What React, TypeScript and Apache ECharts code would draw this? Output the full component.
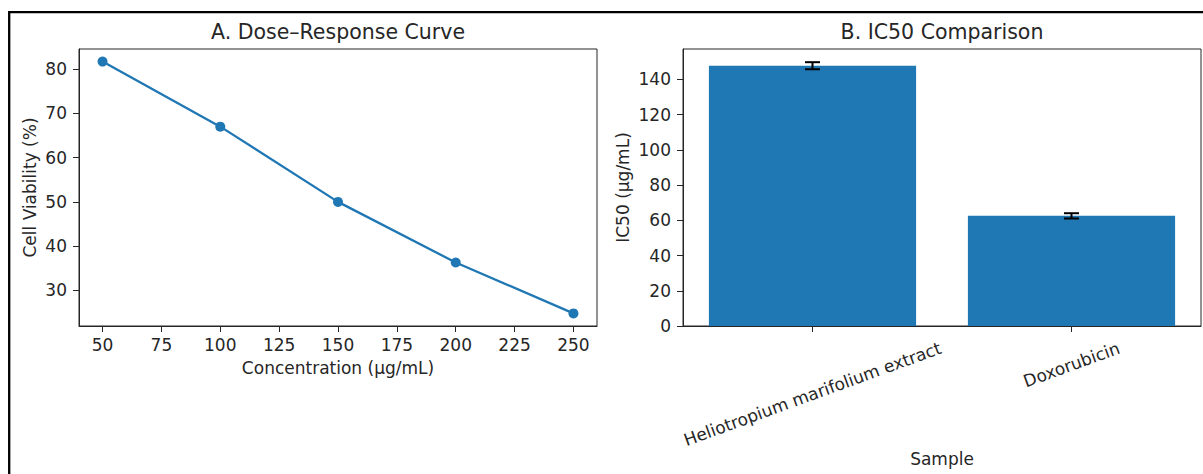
import React, { useEffect, useRef } from "react";
import * as echarts from "echarts";

// ---- data ----
const concentrations = [50, 100, 150, 200, 250];
const viability = [81.7, 67.0, 50.0, 36.3, 24.8];
const samples = ["Heliotropium marifolium extract", "Doxorubicin"];
const ic50 = [147.7, 62.5];
const ic50Err = [2.0, 1.5];
const xTicksA = [50, 75, 100, 125, 150, 175, 200, 225, 250];
const yTicksA = [30, 40, 50, 60, 70, 80];
const yTicksB = [0, 20, 40, 60, 80, 100, 120, 140];

const FONT = "DejaVu Sans";
const FS = 17;
const TITLE_FS = 20.5;
const BLUE = "#1f77b4";
const DARK = "#262626";

export default function App() {
  const ref = useRef<HTMLDivElement>(null);
  useEffect(() => {
    if (!ref.current) return;
    const chart = echarts.init(ref.current, undefined, { renderer: "svg" });

    const vMin = Math.min(...viability);
    const vMax = Math.max(...viability);
    const vPad = (vMax - vMin) * 0.05;
    const cMin = Math.min(...concentrations);
    const cMax = Math.max(...concentrations);
    const cPad = (cMax - cMin) * 0.05;
    const bMax = Math.max(...ic50.map((v, i) => v + ic50Err[i])) * 1.05;

    const gridA = { left: 79, top: 49, width: 518, height: 277 };
    const gridB = { left: 683, top: 49, width: 518, height: 277 };

    const tickLabel = { color: DARK, fontFamily: FONT, fontSize: FS };
    const nameStyle = { color: DARK, fontFamily: FONT, fontSize: FS };

    const baseGraphic: any[] = [
      {
        type: "rect",
        id: "frame",
        silent: true,
        shape: { x: 9.2, y: 12.2, width: 1400, height: 800 },
        style: { fill: "none", stroke: "#000", lineWidth: 2.3 },
      },
      {
        type: "text",
        id: "titleA",
        x: gridA.left + gridA.width / 2,
        y: 32,
        style: {
          text: "A. Dose–Response Curve",
          fontFamily: FONT,
          fontSize: TITLE_FS,
          fill: DARK,
          textAlign: "center",
          textVerticalAlign: "middle",
        },
      },
      {
        type: "text",
        id: "titleB",
        x: gridB.left + gridB.width / 2,
        y: 32,
        style: {
          text: "B. IC50 Comparison",
          fontFamily: FONT,
          fontSize: TITLE_FS,
          fill: DARK,
          textAlign: "center",
          textVerticalAlign: "middle",
        },
      },
    ];

    const option: any = {
      animation: false,
      textStyle: { fontFamily: FONT },
      graphic: baseGraphic,
      grid: [
        { ...gridA, show: true, borderColor: DARK, borderWidth: 1, containLabel: false, outerBoundsMode: "none" },
        { ...gridB, show: true, borderColor: DARK, borderWidth: 1, containLabel: false, outerBoundsMode: "none" },
      ],
      xAxis: [
        {
          gridIndex: 0,
          type: "value",
          min: cMin - cPad,
          max: cMax + cPad,
          name: "Concentration (μg/mL)",
          nameLocation: "middle",
          nameGap: 33,
          nameTextStyle: nameStyle,
          axisLine: { show: true, lineStyle: { color: DARK, width: 1 } },
          axisTick: { show: true, length: 6, lineStyle: { color: DARK }, customValues: xTicksA },
          axisLabel: { ...tickLabel, margin: 10, customValues: xTicksA },
          splitLine: { show: false },
        },
        {
          gridIndex: 1,
          type: "category",
          data: samples,
          name: "Sample",
          nameLocation: "middle",
          nameGap: 124,
          nameTextStyle: nameStyle,
          axisLine: { show: true, lineStyle: { color: DARK, width: 1 } },
          axisTick: { show: true, length: 6, alignWithLabel: true, lineStyle: { color: DARK } },
          axisLabel: { show: false },
          splitLine: { show: false },
        },
      ],
      yAxis: [
        {
          gridIndex: 0,
          type: "value",
          min: vMin - vPad,
          max: vMax + vPad,
          name: "Cell Viability (%)",
          nameLocation: "middle",
          nameGap: 41,
          nameTextStyle: nameStyle,
          axisLine: { show: true, lineStyle: { color: DARK, width: 1 } },
          axisTick: { show: true, length: 6, lineStyle: { color: DARK }, customValues: yTicksA },
          axisLabel: { ...tickLabel, margin: 12, customValues: yTicksA },
          splitLine: { show: false },
        },
        {
          gridIndex: 1,
          type: "value",
          min: 0,
          max: bMax,
          name: "IC50 (μg/mL)",
          nameLocation: "middle",
          nameGap: 52,
          nameTextStyle: nameStyle,
          axisLine: { show: true, lineStyle: { color: DARK, width: 1 } },
          axisTick: { show: true, length: 6, lineStyle: { color: DARK }, customValues: yTicksB },
          axisLabel: { ...tickLabel, margin: 12, customValues: yTicksB },
          splitLine: { show: false },
        },
      ],
      series: [
        {
          type: "line",
          xAxisIndex: 0,
          yAxisIndex: 0,
          data: concentrations.map((c, i) => [c, viability[i]]),
          symbol: "circle",
          symbolSize: 10,
          lineStyle: { color: BLUE, width: 2.3 },
          itemStyle: { color: BLUE },
        },
        {
          type: "bar",
          xAxisIndex: 1,
          yAxisIndex: 1,
          data: ic50,
          barWidth: "80%",
          itemStyle: { color: BLUE },
        },
        {
          type: "custom",
          xAxisIndex: 1,
          yAxisIndex: 1,
          data: samples.map((s, i) => [i, ic50[i], ic50Err[i]]),
          z: 10,
          renderItem: (params: any, api: any) => {
            const x = api.value(0);
            const v = api.value(1);
            const e = api.value(2);
            const top = api.coord([x, v + e]);
            const bot = api.coord([x, v - e]);
            const hw = 7.5;
            const st = { stroke: "#000", lineWidth: 2 };
            return {
              type: "group",
              children: [
                { type: "line", shape: { x1: top[0], y1: top[1], x2: bot[0], y2: bot[1] }, style: st },
                { type: "line", shape: { x1: top[0] - hw, y1: top[1], x2: top[0] + hw, y2: top[1] }, style: st },
                { type: "line", shape: { x1: bot[0] - hw, y1: bot[1], x2: bot[0] + hw, y2: bot[1] }, style: st },
              ],
            };
          },
        },
      ],
    };

    chart.setOption(option);

    // Rotated category labels, centred under each tick like matplotlib (ha="center", rotation=20)
    const canvas = document.createElement("canvas");
    const ctx = canvas.getContext("2d");
    if (ctx) ctx.font = `${FS}px "${FONT}"`;
    const ang = (20 * Math.PI) / 180;
    const labels = samples.map((s, i) => {
      const p = chart.convertToPixel({ gridIndex: 1 } as any, [i, 0]) as number[];
      const w = ctx ? ctx.measureText(s).width : s.length * FS * 0.55;
      const h = FS * 1.164;
      const bh = w * Math.sin(ang) + h * Math.cos(ang);
      return {
        type: "text",
        id: "xlab" + i,
        x: p[0],
        y: p[1] + 12 + bh / 2,
        rotation: ang,
        style: {
          text: s,
          fontFamily: FONT,
          fontSize: FS,
          fill: DARK,
          textAlign: "center",
          textVerticalAlign: "middle",
        },
      };
    });
    chart.setOption({ graphic: [...baseGraphic, ...labels] });

    return () => chart.dispose();
  }, []);

  return (
    <div
      ref={ref}
      style={{ position: "fixed", left: 0, top: 0, width: 1203, height: 474, background: "#fff" }}
    />
  );
}
